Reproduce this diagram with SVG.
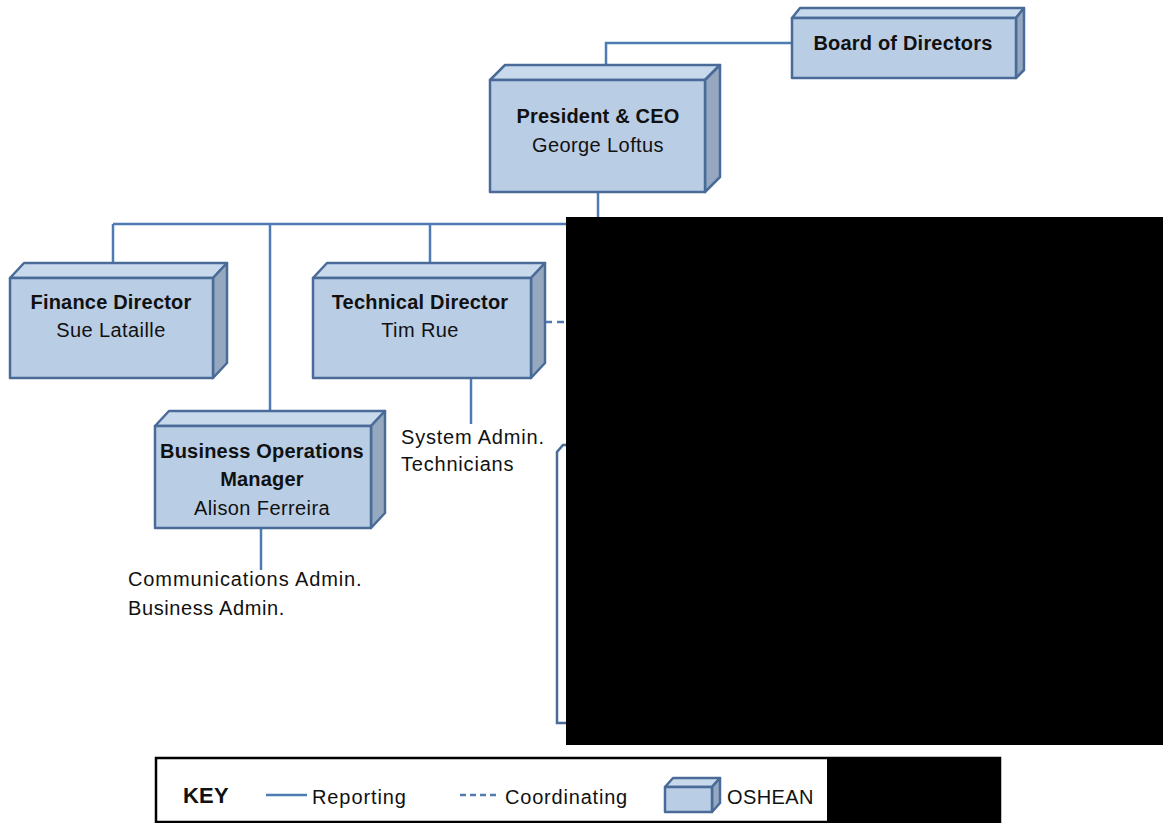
<svg xmlns="http://www.w3.org/2000/svg" width="1163" height="823" viewBox="0 0 1163 823">
  <style>
    .front { fill: #b9cde5; stroke: #4a6b97; stroke-width: 2.5; stroke-linejoin: round; }
    .top { fill: #c9d9ec; stroke: #4a6b97; stroke-width: 2.5; stroke-linejoin: round; }
    .side { fill: #95a8c0; stroke: #4a6b97; stroke-width: 2.5; stroke-linejoin: round; }
    .link { fill: none; stroke: #4f7bb3; stroke-width: 2.5; }
    .dash { fill: none; stroke: #4f7bb3; stroke-width: 2.5; stroke-dasharray: 7 5; }
    text { font-family: "Liberation Sans", Arial, sans-serif; font-size: 20px; fill: #111; letter-spacing: 0.4px; }
    .b { font-weight: bold; letter-spacing: 0.2px; }
    .c { text-anchor: middle; }
  </style>

  <rect width="1163" height="823" fill="#ffffff"/>

  <!-- reporting and coordinating lines -->
  <g id="connectors">
    <polyline class="link" points="606,80 606,43 792,43"/>
    <polyline class="link" points="598,192 598,224"/>
    <line class="link" x1="113" y1="224" x2="566" y2="224"/>
    <line class="link" x1="113" y1="224" x2="113" y2="263"/>
    <line class="link" x1="270" y1="224" x2="270" y2="411"/>
    <line class="link" x1="430" y1="224" x2="430" y2="263"/>
    <line class="link" x1="471" y1="378" x2="471" y2="424"/>
    <line class="link" x1="261" y1="528" x2="261" y2="570"/>
    <line class="dash" x1="545" y1="322" x2="566" y2="322"/>
  </g>

  <g id="board">
    <polygon class="top" points="792,18 800,8 1024,8 1016,18"/>
    <polygon class="side" points="1016,18 1024,8 1024,70 1016,78"/>
    <rect class="front" x="792" y="18" width="224" height="60"/>
    <text class="b c" x="903" y="50">Board of Directors</text>
  </g>

  <g id="president">
    <polygon class="top" points="490,80 505,65 720,65 705,80"/>
    <polygon class="side" points="705,80 720,65 720,177 705,192"/>
    <rect class="front" x="490" y="80" width="215" height="112"/>
    <text class="b c" x="598" y="123">President &amp; CEO</text>
    <text class="c" x="598" y="152">George Loftus</text>
  </g>

  <g id="finance">
    <polygon class="top" points="10,278 24,263 227,263 213,278"/>
    <polygon class="side" points="213,278 227,263 227,363 213,378"/>
    <rect class="front" x="10" y="278" width="203" height="100"/>
    <text class="b c" x="111" y="309">Finance Director</text>
    <text class="c" x="111" y="337">Sue Lataille</text>
  </g>

  <g id="technical">
    <polygon class="top" points="313,278 327,263 545,263 531,278"/>
    <polygon class="side" points="531,278 545,263 545,363 531,378"/>
    <rect class="front" x="313" y="278" width="218" height="100"/>
    <text class="b c" x="420" y="309">Technical Director</text>
    <text class="c" x="420" y="337">Tim Rue</text>
  </g>

  <g id="business-ops">
    <polygon class="top" points="155,426 169,411 385,411 371,426"/>
    <polygon class="side" points="371,426 385,411 385,513 371,528"/>
    <rect class="front" x="155" y="426" width="216" height="102"/>
    <text class="b c" x="262" y="458">Business Operations</text>
    <text class="b c" x="262" y="486">Manager</text>
    <text class="c" x="262" y="515">Alison Ferreira</text>
  </g>

  <g id="tech-staff">
    <text x="401" y="444" style="letter-spacing:0.8px">System Admin.</text>
    <text x="401" y="471" style="letter-spacing:0.8px">Technicians</text>
  </g>

  <g id="ops-staff">
    <text x="128" y="586" style="letter-spacing:0.9px">Communications Admin.</text>
    <text x="128" y="615" style="letter-spacing:0.6px">Business Admin.</text>
  </g>

  <!-- partly covered box -->
  <g id="covered-box">
    <polyline fill="#ffffff" stroke="#4a6b97" stroke-width="2.5" points="566,445 563,445 557,452 557,723 566,723"/>
  </g>

  <!-- blacked-out area -->
  <rect id="redaction" x="566" y="217" width="597" height="528" fill="#000"/>

  <g id="key">
    <rect x="156" y="758" width="844" height="64" fill="#fff" stroke="#000" stroke-width="2.5"/>
    <text class="b" x="183" y="803" style="font-size:22px">KEY</text>
    <line class="link" x1="266" y1="795" x2="307" y2="795"/>
    <text x="312" y="804" style="letter-spacing:0.9px">Reporting</text>
    <line class="dash" x1="460" y1="795" x2="500" y2="795" style="stroke-dasharray:6 4"/>
    <text x="505" y="804" style="letter-spacing:0.8px">Coordinating</text>
    <polygon class="top" points="665,787 673,778 720,778 712,787"/>
    <polygon class="side" points="712,787 720,778 720,803 712,812"/>
    <rect class="front" x="665" y="787" width="47" height="25"/>
    <text x="727" y="804">OSHEAN</text>
    <rect x="827" y="758" width="173" height="64" fill="#000"/>
  </g>
</svg>
